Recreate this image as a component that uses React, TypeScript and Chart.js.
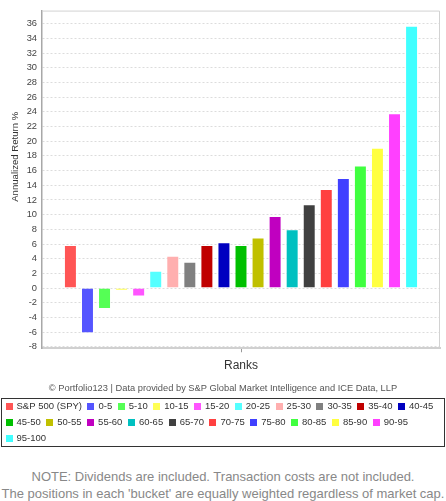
import React, { useEffect, useRef } from 'react';
import { Chart, registerables } from 'chart.js';

Chart.register(...registerables);

// ---- data ----
const bucketLabels = [
  'S&P 500 (SPY)', '0-5', '5-10', '10-15', '15-20', '20-25', '25-30', '30-35', '35-40', '40-45',
  '45-50', '50-55', '55-60', '60-65', '65-70', '70-75', '75-80', '80-85', '85-90', '90-95', '95-100',
];
const annualizedReturns = [
  5.85, -6.15, -2.85, -0.35, -1.15, 2.35, 4.4, 3.6, 5.85, 6.25,
  5.85, 6.9, 9.8, 8.0, 11.4, 13.5, 15.0, 16.7, 19.1, 23.8, 35.75,
];
const barColors = [
  '#FF5555', '#5555FF', '#55FF55', '#FFFF55', '#FF55FF', '#55FFFF', '#FFAFAF', '#808080', '#C00000', '#0000C0',
  '#00C000', '#C0C000', '#C000C0', '#00C0C0', '#404040', '#FF4040', '#4040FF', '#40FF40', '#FFFF40', '#FF40FF', '#40FFFF',
];
const yTickValues = [-8, -6, -4, -2, 0, 2, 4, 6, 8, 10, 12, 14, 16, 18, 20, 22, 24, 26, 28, 30, 32, 34, 36];
const yAxisTitle = 'Annualized Return %';
const xAxisTitle = 'Ranks';
const creditText = '\u00A9 Portfolio123 | Data provided by S&P Global Market Intelligence and ICE Data, LLP';
const noteLines = [
  'NOTE: Dividends are included. Transaction costs are not included.',
  "The positions in each 'bucket' are equally weighted regardless of market cap.",
];

const FONT = "'Liberation Sans', Arial, sans-serif";
const LEGEND_FS = 9.5;
const LEGEND_PAD = 6.25;
const SWATCH_W = 5.5;

function makeSwatch(color: string) {
  const c = document.createElement('canvas');
  c.width = 7;
  c.height = 7;
  const g = c.getContext('2d')!;
  g.fillStyle = color;
  g.fillRect(0, 0, 7, 7);
  return c;
}

const framePlugin = {
  id: 'frameLines',
  beforeDatasetsDraw(chart: any) {
    const { ctx, chartArea: a } = chart;
    ctx.save();
    ctx.strokeStyle = '#d2d2d2';
    ctx.lineWidth = 1;
    ctx.beginPath();
    ctx.moveTo(a.left, a.top + 0.5);
    ctx.lineTo(a.right - 0.5, a.top + 0.5);
    ctx.lineTo(a.right - 0.5, a.bottom);
    ctx.stroke();
    ctx.restore();
  },
  afterDraw(chart: any) {
    const lg = chart.legend;
    if (!lg) return;
    const { ctx } = chart;
    const rows = lg.lineWidths ? lg.lineWidths.length : 3;
    const lineH = LEGEND_FS + LEGEND_PAD;
    const firstCenter = lg.top + LEGEND_PAD + LEGEND_FS / 2;
    const lastCenter = firstCenter + (rows - 1) * lineH;
    const top = Math.round(firstCenter - 8.5) + 0.5;
    const bottom = Math.round(lastCenter + 7.7) + 0.5;
    ctx.save();
    ctx.strokeStyle = '#333333';
    ctx.lineWidth = 1;
    ctx.strokeRect(1.5, top, 443, bottom - top);
    ctx.restore();
  },
};

export default function App() {
  const canvasRef = useRef<HTMLCanvasElement | null>(null);

  useEffect(() => {
    if (!canvasRef.current) return;
    const swatches = barColors.map(makeSwatch);
    const chart = new Chart(canvasRef.current, {
      type: 'bar',
      data: {
        labels: [''],
        datasets: bucketLabels.map((label, i) => ({
          label,
          data: [annualizedReturns[i]],
          backgroundColor: barColors[i],
          borderColor: 'rgba(255,255,255,0.45)',
          borderWidth: 1,
          categoryPercentage: 0.9,
          barPercentage: 0.76,
        })),
      },
      options: {
        animation: false,
        responsive: true,
        maintainAspectRatio: false,
        devicePixelRatio: 1,
        layout: { padding: { top: 6, left: 0, right: 0, bottom: 3 } },
        scales: {
          x: {
            grid: {
              display: true,
              drawOnChartArea: false,
              drawTicks: true,
              tickLength: 4,
              offset: false,
              color: '#999999',
            },
            border: { display: true, color: '#d0d0d0', width: 2 },
            ticks: { display: false },
            title: {
              display: true,
              text: xAxisTitle,
              color: '#333333',
              font: { family: FONT, size: 12, lineHeight: 13 / 12 },
              padding: { top: 7, bottom: 2 },
            },
          },
          y: {
            min: -8.2,
            max: 37.8,
            afterBuildTicks: (scale: any) => {
              scale.ticks = yTickValues.map((v) => ({ value: v }));
            },
            afterFit: (scale: any) => {
              scale.width = 42;
            },
            grid: {
              color: '#dcdcdc',
              drawTicks: false,
              lineWidth: 1,
            },
            border: { display: true, color: '#a8a8a8', width: 1.5, dash: [2, 2] },
            ticks: {
              padding: 5,
              color: '#444444',
              font: { family: FONT, size: 9.3 },
              callback: (v: any) => String(v),
            },
            title: {
              display: true,
              text: ' '.repeat(17) + yAxisTitle,
              color: '#333333',
              font: { family: FONT, size: 9.6, lineHeight: 11 / 9.6 },
              padding: { top: 9.5, bottom: 0 },
            },
          },
          yR: {
            position: 'right',
            display: true,
            grid: { display: false, drawTicks: false },
            border: { display: false },
            ticks: { display: false },
            afterFit: (scale: any) => {
              scale.width = 6;
            },
          },
        },
        plugins: {
          tooltip: { enabled: false },
          title: { display: false },
          subtitle: {
            display: true,
            position: 'bottom',
            weight: 500,
            text: creditText,
            color: '#555555',
            font: { family: FONT, size: 9.3, lineHeight: 11 / 9.3 },
            padding: { top: 8.5, bottom: 2 },
          },
          legend: {
            display: true,
            position: 'bottom',
            align: 'start',
            weight: 1000,
            labels: {
              usePointStyle: true,
              pointStyleWidth: SWATCH_W,
              padding: LEGEND_PAD,
              color: '#333333',
              font: { family: FONT, size: LEGEND_FS },
              generateLabels: (c: any) => {
                const items = (Chart.defaults.plugins.legend.labels as any).generateLabels(c);
                return items.map((it: any, i: number) => ({
                  ...it,
                  pointStyle: swatches[i],
                  lineWidth: 0,
                  strokeStyle: 'rgba(0,0,0,0)',
                }));
              },
            },
          },
        },
      } as any,
      plugins: [framePlugin],
    });
    return () => chart.destroy();
  }, []);

  return (
    <>
      <div style={{ position: 'absolute', left: 0, top: 0, width: 446, height: 456 }}>
        <canvas ref={canvasRef} />
      </div>
      <div
        style={{
          position: 'absolute',
          left: 0,
          top: 467.5,
          width: 446,
          textAlign: 'center',
          fontFamily: FONT,
          fontSize: 13,
          lineHeight: '17px',
          color: '#888888',
          whiteSpace: 'nowrap',
        }}
      >
        {noteLines.map((t) => (
          <div key={t}>{t}</div>
        ))}
      </div>
    </>
  );
}
